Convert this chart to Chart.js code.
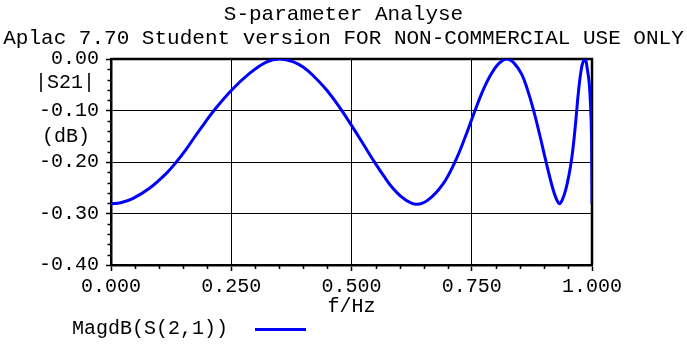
<!DOCTYPE html>
<html><head><meta charset="utf-8">
<script src="https://cdn.jsdelivr.net/npm/chart.js@4.4.1/dist/chart.umd.min.js"></script>
<style>html,body{margin:0;padding:0;background:#fff;overflow:hidden}</style>
</head><body>
<canvas id="c" width="687" height="344" style="display:block;width:687px;height:344px"></canvas>
<script>
const titleLines = ['S-parameter Analyse', 'Aplac 7.70 Student version FOR NON-COMMERCIAL USE ONLY'];
const yAxisTitle = ['|S21|', '(dB)'];
const xAxisTitle = 'f/Hz';
const seriesName = 'MagdB(S(2,1))';
const xTicks = [0, 0.25, 0.5, 0.75, 1.0];
const yTicks = [-0.4, -0.3, -0.2, -0.1, 0];
const freq = [0, 0.02, 0.045, 0.08, 0.115, 0.135, 0.155, 0.175, 0.195, 0.215, 0.25, 0.288, 0.323, 0.351,
  0.378, 0.40, 0.42, 0.45, 0.476, 0.50, 0.525, 0.545, 0.567, 0.587, 0.61, 0.635,
  0.66, 0.69, 0.715, 0.735, 0.754, 0.772, 0.788, 0.805, 0.823,
  0.838, 0.854, 0.866, 0.878, 0.892, 0.904, 0.918, 0.926, 0.9325,
  0.938, 0.945, 0.952, 0.958, 0.963, 0.967, 0.972, 0.977, 0.981, 0.986,
  0.99, 0.994, 0.997, 0.999, 1.0];
const magdB = [-0.281, -0.279, -0.271, -0.251, -0.222, -0.201, -0.177, -0.150, -0.124, -0.099, -0.061, -0.028, -0.006, 0,
  -0.005, -0.016, -0.032, -0.062, -0.095, -0.129, -0.166, -0.196, -0.227, -0.252, -0.272, -0.282,
  -0.273, -0.243, -0.200, -0.155, -0.107, -0.064, -0.033, -0.010, 0,
  -0.008, -0.030, -0.060, -0.098, -0.150, -0.198, -0.250, -0.272, -0.281,
  -0.274, -0.255, -0.226, -0.192, -0.152, -0.113, -0.062, -0.024, -0.007, 0,
  -0.018, -0.045, -0.090, -0.150, -0.281];

const FONT = 'Liberation Mono';
const tickFont = {family: FONT, size: 20, lineHeight: 1.2};

const extras = {
  id: 'extras',
  beforeDatasetsDraw(chart) {
    const {ctx, chartArea: ca} = chart;
    ctx.save();
    ctx.strokeStyle = '#000';
    ctx.lineWidth = 2.5;
    ctx.beginPath();
    ctx.moveTo(ca.left, ca.top); ctx.lineTo(ca.right, ca.top); ctx.lineTo(ca.right, ca.bottom);
    ctx.stroke();
    const xs = chart.scales.x, ys = chart.scales.y;
    ctx.lineWidth = 1.5;
    ctx.beginPath();
    for (let i = 0; i <= 20; i++) {
      if (i % 5 === 0) continue;
      const px = Math.round(xs.getPixelForValue(i * 0.05)) + 0.5;
      ctx.moveTo(px, ca.bottom); ctx.lineTo(px, ca.bottom + 4);
    }
    for (let i = 0; i <= 20; i++) {
      if (i % 5 === 0) continue;
      const py = Math.round(ys.getPixelForValue(-i * 0.02)) + 0.5;
      ctx.moveTo(ca.left, py); ctx.lineTo(ca.left - 3.5, py);
    }
    ctx.stroke();
    ctx.restore();
  },
  afterDraw(chart) {
    const {ctx} = chart;
    ctx.save();
    ctx.font = '20px "' + FONT + '"';
    ctx.fillStyle = '#000';
    ctx.textBaseline = 'middle';
    ctx.textAlign = 'center';
    ctx.fillText(yAxisTitle[0], 65, 83);
    ctx.fillText(yAxisTitle[1], 66, 137);
    const ds = chart.data.datasets[0];
    ctx.textAlign = 'left';
    ctx.fillText(ds.label, 72, 329);
    ctx.strokeStyle = ds.borderColor;
    ctx.lineWidth = 3;
    ctx.beginPath();
    ctx.moveTo(255, 329.5); ctx.lineTo(306, 329.5);
    ctx.stroke();
    ctx.restore();
  }
};

new Chart(document.getElementById('c'), {
  type: 'line',
  data: {
    datasets: [{
      label: seriesName,
      data: freq.map((f, i) => ({x: f, y: magdB[i]})),
      borderColor: '#0000ff',
      borderWidth: 3,
      pointRadius: 0,
      tension: 0.4,
      fill: false
    }]
  },
  options: {
    responsive: false,
    animation: false,
    devicePixelRatio: 1,
    layout: {padding: 0},
    plugins: {
      legend: {display: false},
      tooltip: {enabled: false},
      title: {
        display: true,
        text: titleLines,
        color: '#000',
        font: {family: FONT, size: 21, lineHeight: 24 / 21, weight: 'normal'},
        padding: {top: 2, bottom: 9}
      }
    },
    scales: {
      x: {
        type: 'linear', min: 0, max: 1,
        afterBuildTicks: s => { s.ticks = xTicks.map(v => ({value: v})); },
        afterFit: s => { s.height = 79; },
        ticks: {callback: v => Number(v).toFixed(3), font: tickFont, color: '#000', padding: 4, maxRotation: 0, autoSkip: false},
        grid: {color: '#000', lineWidth: 1, tickLength: 6, tickWidth: 1.5},
        border: {color: '#000', width: 2.5},
        title: {display: true, text: xAxisTitle, color: '#000', font: tickFont, padding: {top: 0, bottom: 25}}
      },
      y: {
        type: 'linear', min: -0.4, max: 0,
        afterBuildTicks: s => { s.ticks = yTicks.map(v => ({value: v})); },
        afterFit: s => { s.width = 111; },
        ticks: {callback: v => Number(v).toFixed(2), font: tickFont, color: '#000', padding: 7},
        grid: {color: '#000', lineWidth: 1, tickLength: 5, tickWidth: 1.5},
        border: {color: '#000', width: 2.5}
      },
      yR: {
        position: 'right', display: true,
        afterFit: s => { s.width = 95; },
        ticks: {display: false},
        grid: {display: false, drawTicks: false},
        border: {display: false}
      }
    }
  },
  plugins: [extras]
});
</script>
</body></html>
